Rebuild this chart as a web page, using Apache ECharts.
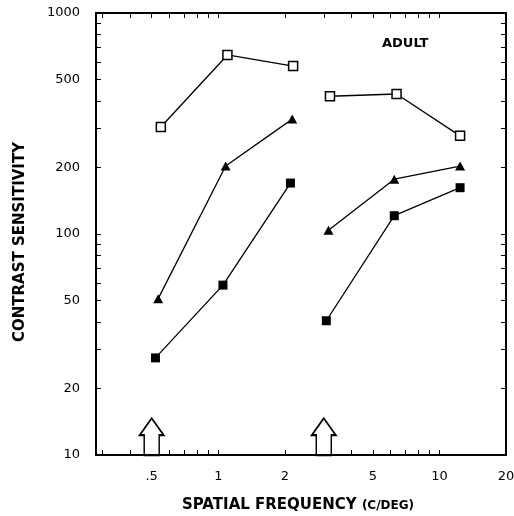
<!DOCTYPE html>
<html><head><meta charset="utf-8">
<script src="https://cdn.jsdelivr.net/npm/echarts@6/dist/echarts.min.js"></script>
<style>html,body{margin:0;padding:0;background:#fff}#c{width:514px;height:516px}</style>
</head><body><div id="c"></div>
<script>
// Data
const openSquareX = [0.55, 1.1, 2.18, null, 3.2, 6.4, 12.4];
const openSquareY = [305, 646, 575, null, 420, 430, 278];
const triangleX = [0.535, 1.08, 2.16, null, 3.15, 6.25, 12.4];
const triangleY = [51, 203, 331, null, 104, 177, 203];
const filledSquareX = [0.52, 1.05, 2.12, null, 3.08, 6.25, 12.4];
const filledSquareY = [27.5, 58.7, 170, null, 40.5, 121, 162];
const arrowX = [0.5, 3];
const arrowY = [12.1, 12.1];
const xTickValues = [0.3,0.4,0.5,0.6,0.7,0.8,0.9,1,2,3,4,5,6,7,8,9,10];
const xLabelValues = [0.5, 1, 2, 5, 10, 20];
const xLabelTexts = ['.5', '1', '2', '5', '10', '20'];
const yTickValues = [20,30,40,50,60,70,80,90,100,200,300,400,500,600,700,800,900];
const yLabelValues = [10, 20, 50, 100, 200, 500, 1000];
const yLabelTexts = ['10', '20', '50', '100', '200', '500', '1000'];

function pairs(xs, ys){ return xs.map((x,i)=> x===null ? [null,null] : [x, ys[i]]); }
function fmt(vals, texts){ return function(v){ for (let i=0;i<vals.length;i++){ if (Math.abs(vals[i]-v) < 1e-6*vals[i]+1e-9) return texts[i]; } return ''; }; }

const font = 'DejaVu Sans';
const baseX = {
  type: 'log', logBase: 10, min: 0.28, max: 20,
  axisLine: {lineStyle: {color: '#000', width: 2}},
  splitLine: {show: false},
  axisTick: {inside: true, length: 5, lineStyle: {color: '#000', width: 1}, customValues: xTickValues},
};
const baseY = {
  type: 'log', logBase: 10, min: 10, max: 1000,
  axisLine: {lineStyle: {color: '#000', width: 2}},
  splitLine: {show: false},
  axisTick: {inside: true, length: 5, lineStyle: {color: '#000', width: 1}, customValues: yTickValues},
};

const chart = echarts.init(document.getElementById('c'));
chart.setOption({
  backgroundColor: '#fff',
  animation: false,
  title: {text: 'ADULT', left: 377, top: 32, textStyle: {fontFamily: font, fontWeight: 'bold', fontSize: 13, color: '#000'}},
  grid: {left: 96, right: 8, top: 13, bottom: 61, outerBoundsMode: 'none'},
  xAxis: [
    Object.assign({}, baseX, {
      position: 'bottom',
      name: 'SPATIAL FREQUENCY {s|(C/DEG)}', nameLocation: 'middle', nameGap: 43,
      nameTextStyle: {fontFamily: font, fontWeight: 'bold', fontSize: 15, color: '#000', padding: [0, 6, 0, 0],
        rich: {s: {fontFamily: font, fontWeight: 'bold', fontSize: 12, color: '#000'}}},
      axisLabel: {fontFamily: font, fontSize: 13, color: '#000', margin: 15, customValues: xLabelValues, formatter: fmt(xLabelValues, xLabelTexts)}
    }),
    Object.assign({}, baseX, {position: 'top', axisLabel: {show: false}})
  ],
  yAxis: [
    Object.assign({}, baseY, {
      position: 'left',
      name: 'CONTRAST SENSITIVITY', nameLocation: 'middle', nameGap: 68, nameRotate: 90,
      nameTextStyle: {fontFamily: font, fontWeight: 'bold', fontSize: 15, color: '#000', padding: [0, 16, 0, 0]},
      axisLabel: {fontFamily: font, fontSize: 13, color: '#000', margin: 16, customValues: yLabelValues, formatter: fmt(yLabelValues, yLabelTexts)}
    }),
    Object.assign({}, baseY, {position: 'right', axisLabel: {show: false}})
  ],
  series: [
    {type: 'line', data: pairs(openSquareX, openSquareY), connectNulls: false,
     symbol: 'rect', symbolSize: 9, showAllSymbol: true,
     lineStyle: {color: '#000', width: 1.3},
     itemStyle: {color: '#fff', borderColor: '#000', borderWidth: 1.5}, z: 3},
    {type: 'line', data: pairs(triangleX, triangleY), connectNulls: false,
     symbol: 'triangle', symbolSize: [10, 9], showAllSymbol: true,
     lineStyle: {color: '#000', width: 1.3},
     itemStyle: {color: '#000', borderColor: '#000', borderWidth: 0}, z: 3},
    {type: 'line', data: pairs(filledSquareX, filledSquareY), connectNulls: false,
     symbol: 'rect', symbolSize: 9, showAllSymbol: true,
     lineStyle: {color: '#000', width: 1.3},
     itemStyle: {color: '#000', borderColor: '#000', borderWidth: 0}, z: 3},
    {type: 'scatter', data: pairs(arrowX, arrowY),
     symbol: 'path://M12 0 L24 17 L19.5 17 L19.5 37 L4.5 37 L4.5 17 L0 17 Z',
     symbolSize: [24, 37], symbolKeepAspect: false,
     itemStyle: {color: '#fff', borderColor: '#000', borderWidth: 1.8, opacity: 1}, z: 2}
  ]
});
</script></body></html>
